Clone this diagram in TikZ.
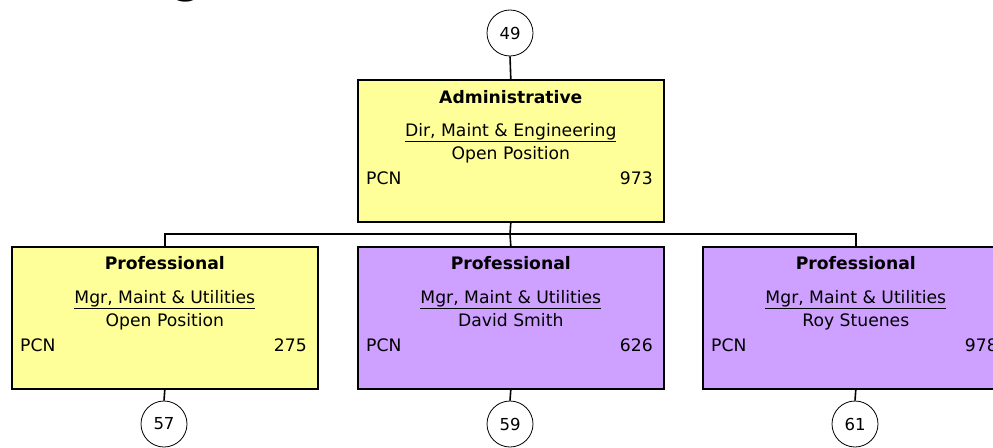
\documentclass[tikz,border=0pt]{standalone}
\usepackage{fontspec}
\setmainfont{DejaVu Sans}
\usetikzlibrary{calc}
\definecolor{ylw}{RGB}{255,255,153}
\definecolor{prp}{RGB}{206,160,255}
\begin{document}
\begin{tikzpicture}[x=1pt,y=-1pt,
  posbox/.style={draw=black,line width=1.6pt,minimum width=306pt,minimum height=142pt,inner sep=0pt,anchor=north west},
  numcirc/.style={circle,draw=black,line width=0.8pt,fill=white,minimum size=46pt,inner sep=0pt,font=\fontsize{16.5}{18}\selectfont},
  conn/.style={line width=1.6pt},
  txt/.style={inner sep=0pt,font=\fontsize{17.2}{20}\selectfont},
  ttl/.style={inner sep=0pt,font=\fontsize{17.2}{20}\selectfont\bfseries}]
\useasboundingbox (0,0) rectangle (993,447);
\fill[white] (0,0) rectangle (993,447);
% cropped title descender
\node[inner sep=0pt,anchor=base,font=\fontsize{40}{40}\selectfont\bfseries] (bigg) at (188,-6.5) {g};

% boxes
\node[posbox,fill=ylw] (top) at (357,79) {};
\node[posbox,fill=ylw] (b1) at (11,246) {};
\node[posbox,fill=prp] (b2) at (357,246) {};
\node[posbox,fill=prp] (b3) at (702,246) {};

% top box text
\node[ttl,anchor=base] (topT) at ($(top.north)+(0,24)$) {Administrative};
\node[txt,anchor=base] (topP) at ($(top.north)+(0,57)$) {\underline{Dir, Maint \& Engineering}};
\node[txt,anchor=base] (topN) at ($(top.north)+(0,80.5)$) {Open Position};
\node[txt,anchor=base west] (topL) at ($(top.north west)+(9,105)$) {PCN};
\node[txt,anchor=base east] (topR) at ($(top.north west)+(296,105)$) {973};

% box 1
\node[ttl,anchor=base] (b1T) at ($(b1.north)+(0,23.5)$) {Professional};
\node[txt,anchor=base] (b1P) at ($(b1.north)+(0,57)$) {\underline{Mgr, Maint \& Utilities}};
\node[txt,anchor=base] (b1N) at ($(b1.north)+(0,80.5)$) {Open Position};
\node[txt,anchor=base west] (b1L) at ($(b1.north west)+(9,105)$) {PCN};
\node[txt,anchor=base east] (b1R) at ($(b1.north west)+(296,105)$) {275};

% box 2
\node[ttl,anchor=base] (b2T) at ($(b2.north)+(0,23.5)$) {Professional};
\node[txt,anchor=base] (b2P) at ($(b2.north)+(0,57)$) {\underline{Mgr, Maint \& Utilities}};
\node[txt,anchor=base] (b2N) at ($(b2.north)+(0,80.5)$) {David Smith};
\node[txt,anchor=base west] (b2L) at ($(b2.north west)+(9,105)$) {PCN};
\node[txt,anchor=base east] (b2R) at ($(b2.north west)+(296,105)$) {626};

% box 3
\node[ttl,anchor=base] (b3T) at ($(b3.north)+(0,23.5)$) {Professional};
\node[txt,anchor=base] (b3P) at ($(b3.north)+(0,57)$) {\underline{Mgr, Maint \& Utilities}};
\node[txt,anchor=base] (b3N) at ($(b3.north)+(0,80.5)$) {Roy Stuenes};
\node[txt,anchor=base west] (b3L) at ($(b3.north west)+(9,105)$) {PCN};
\node[txt,anchor=base east] (b3R) at ($(b3.north west)+(296,105)$) {978};

% circles
\node[numcirc] (c49) at (510,33) {49};
\node[numcirc] (c57) at (164,424) {57};
\node[numcirc] (c59) at (510,424) {59};
\node[numcirc] (c61) at (855,424) {61};

% connectors
\coordinate (j) at (510,234);
\draw[conn] (c49.south) -- (top.north);
\draw[conn] (top.south) -- (j);
\draw[conn] (j) -| (b1.north);
\draw[conn] (j) -| (b3.north);
\draw[conn] (j) -- (b2.north);
\draw[conn] (b1.south) -- (c57.north);
\draw[conn] (b2.south) -- (c59.north);
\draw[conn] (b3.south) -- (c61.north);
\end{tikzpicture}
\end{document}
